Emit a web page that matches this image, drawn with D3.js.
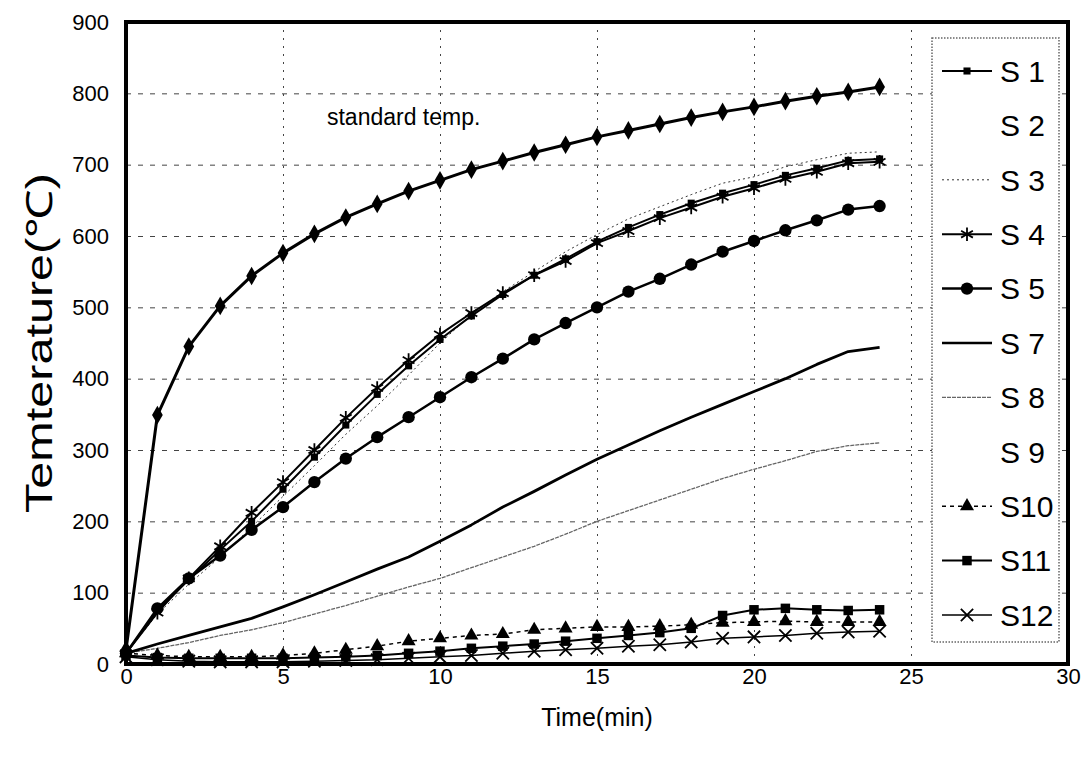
<!DOCTYPE html>
<html><head><meta charset="utf-8">
<script src="https://cdn.jsdelivr.net/npm/d3@7"></script>
<style>
body{margin:0;background:#fff;}
text{font-family:"Liberation Sans",Arial,sans-serif;fill:#000;}
</style>
</head><body>
<svg id="chart" width="1084" height="760"></svg>
<script>
// ---- data ----
const minutes = [0,1,2,3,4,5,6,7,8,9,10,11,12,13,14,15,16,17,18,19,20,21,22,23,24];
const standardTemp = [20,349,445,502,544,576,603,626,645,663,678,693,705,717,728,739,748,757,766,774,781,789,796,802,809];
const s1  = [15,75,118,160,200,245,290,335,378,418,455,488,518,545,568,592,612,630,646,660,672,685,695,706,708];
const s3  = [15,70,112,150,192,235,278,322,362,405,450,490,522,550,578,602,624,641,658,674,683,697,707,716,718];
const s4  = [15,72,120,165,212,255,300,345,387,426,462,492,520,545,565,590,607,625,640,655,667,680,690,702,704];
const s5  = [15,78,120,152,188,220,255,288,318,346,374,402,428,455,478,500,522,540,560,578,593,608,622,637,642];
const s7  = [15,28,40,52,64,80,97,115,133,150,172,195,220,242,265,287,307,327,346,364,382,400,420,438,444];
const s8  = [15,22,30,40,48,58,70,82,95,108,120,135,150,165,182,200,215,230,245,260,273,285,298,306,310];
const s10 = [15,12,10,10,10,12,15,20,25,32,36,40,42,48,50,52,52,53,55,58,59,60,59,59,59];
const s11 = [12,9,8,8,8,8,9,10,12,15,18,22,25,28,32,36,40,44,50,68,76,78,76,75,76];
const s12 = [10,6,4,3,3,3,4,5,6,8,10,12,15,18,20,22,25,27,31,36,38,40,43,45,46];
const legendNames = ["S 1","S 2","S 3","S 4","S 5","S 7","S 8","S 9","S10","S11","S12"];
const xTicks = [0,5,10,15,20,25,30];
const yTicks = [0,100,200,300,400,500,600,700,800,900];
const annotation = "standard temp.";
const xTitle = "Time(min)";
const yTitle = "Temterature(\u2103)";

// ---- styles ----
const styles = {
  "std": {w:3,   dash:null,  color:"#000", sym:d3.symbolDiamond, size:100},
  "S 1": {w:2,   dash:null,  color:"#000", sym:d3.symbolSquare, size:50},
  "S 2": null,
  "S 3": {w:1,   dash:"2,3", color:"#333", sym:null},
  "S 4": {w:2,   dash:null,  color:"#000", sym:(d3.symbolAsterisk||d3.symbolCross), size:130, stroke:true},
  "S 5": {w:2.5, dash:null,  color:"#000", sym:d3.symbolCircle, size:120},
  "S 7": {w:2.8, dash:null,  color:"#000", sym:null},
  "S 8": {w:1.3, dash:"4,1", color:"#666", sym:null},
  "S 9": null,
  "S10": {w:1.5, dash:"4,4", color:"#000", sym:d3.symbolTriangle, size:85},
  "S11": {w:2,   dash:null,  color:"#000", sym:d3.symbolSquare, size:90},
  "S12": {w:1.5, dash:null,  color:"#000", sym:(d3.symbolTimes||d3.symbolX||d3.symbolCross), size:100, stroke:true}
};
const seriesData = [
  {key:"S 8", v:s8}, {key:"S 7", v:s7}, {key:"S 3", v:s3},
  {key:"S 1", v:s1}, {key:"S 4", v:s4}, {key:"S 5", v:s5},
  {key:"S12", v:s12}, {key:"S10", v:s10}, {key:"S11", v:s11},
  {key:"std", v:standardTemp}
];

// ---- layout ----
const L = 126, R = 1068, T = 22, B = 664;
const svg = d3.select("#chart");
const x = d3.scaleLinear().domain([0,30]).range([L,R]);
const y = d3.scaleLinear().domain([0,900]).range([B,T]);
const FONT = "Liberation Sans, Arial, sans-serif";

// grid
svg.append("g").attr("transform",`translate(${L},0)`)
  .call(d3.axisLeft(y).tickValues(yTicks.slice(1,-1)).tickSize(-(R-L)).tickFormat(""))
  .call(g=>g.select(".domain").remove())
  .call(g=>g.selectAll("line").attr("stroke","#444").attr("stroke-width",1).attr("stroke-dasharray","5,7"));
svg.append("g").attr("transform",`translate(0,${B})`)
  .call(d3.axisBottom(x).tickValues(xTicks.slice(1,-1)).tickSize(-(B-T)).tickFormat(""))
  .call(g=>g.select(".domain").remove())
  .call(g=>g.selectAll("line").attr("stroke","#444").attr("stroke-width",1).attr("stroke-dasharray","2,6"));

// tick labels
svg.append("g").attr("transform",`translate(${L},0)`)
  .call(d3.axisLeft(y).tickValues(yTicks).tickSize(0).tickPadding(17))
  .call(g=>g.select(".domain").remove())
  .call(g=>g.selectAll("text").attr("font-size",22).attr("fill","#000").attr("font-family",FONT));
svg.append("g").attr("transform",`translate(0,${B})`)
  .call(d3.axisBottom(x).tickValues(xTicks).tickSize(0).tickPadding(4))
  .call(g=>g.select(".domain").remove())
  .call(g=>g.selectAll("text").attr("font-size",22).attr("fill","#000").attr("font-family",FONT));

// legend background (covers grid)
const LG = {x0:932, x1:1059, y0:38, y1:642};
svg.append("rect").attr("x",LG.x0).attr("y",LG.y0).attr("width",LG.x1-LG.x0).attr("height",LG.y1-LG.y0)
  .attr("fill","#fff").attr("stroke","#666").attr("stroke-width",1.5).attr("stroke-dasharray","1.5,1.5");

// series
const line = d3.line().x((d,i)=>x(minutes[i])).y(d=>y(d));
function drawMarker(g, st, px, py){
  if(!st.sym) return;
  const p = g.append("path").attr("d", d3.symbol().type(st.sym).size(st.size)()).attr("transform",`translate(${px},${py})`);
  if(st.stroke) p.attr("fill","none").attr("stroke",st.color).attr("stroke-width",1.8);
  else p.attr("fill",st.color);
}
seriesData.forEach(s=>{
  const st = styles[s.key];
  const g = svg.append("g");
  g.append("path").attr("d",line(s.v)).attr("fill","none").attr("stroke",st.color)
    .attr("stroke-width",st.w).attr("stroke-dasharray",st.dash).attr("stroke-linejoin","round");
  s.v.forEach((d,i)=>drawMarker(g, st, x(minutes[i]), y(d)));
});

// frame
svg.append("rect").attr("x",L).attr("y",T).attr("width",R-L).attr("height",B-T)
  .attr("fill","none").attr("stroke","#000").attr("stroke-width",4);

// legend entries
const legY = d3.scalePoint().domain(legendNames).range([71,615]);
legendNames.forEach(n=>{
  const st = styles[n];
  const yy = legY(n);
  const g = svg.append("g");
  if(st){
    g.append("line").attr("x1",942).attr("x2",992).attr("y1",yy).attr("y2",yy)
      .attr("stroke",st.color).attr("stroke-width",Math.min(st.w,2.5)).attr("stroke-dasharray",st.dash);
    drawMarker(g, st, 967, yy);
  }
  g.append("text").attr("x",1000).attr("y",yy).attr("dy","0.36em").attr("font-size",30).text(n);
});

// annotation and titles
svg.append("text").attr("x",x(6.4)).attr("y",y(755)).attr("font-size",23).text(annotation);
svg.append("text").attr("x",(L+R)/2).attr("y",726).attr("text-anchor","middle").attr("font-size",25).text(xTitle);
svg.append("text").attr("transform",`translate(52,${(T+B)/2}) rotate(-90)`).attr("text-anchor","middle")
  .attr("font-size",36).attr("textLength",340).attr("lengthAdjust","spacingAndGlyphs").text(yTitle);
</script>
</body></html>
